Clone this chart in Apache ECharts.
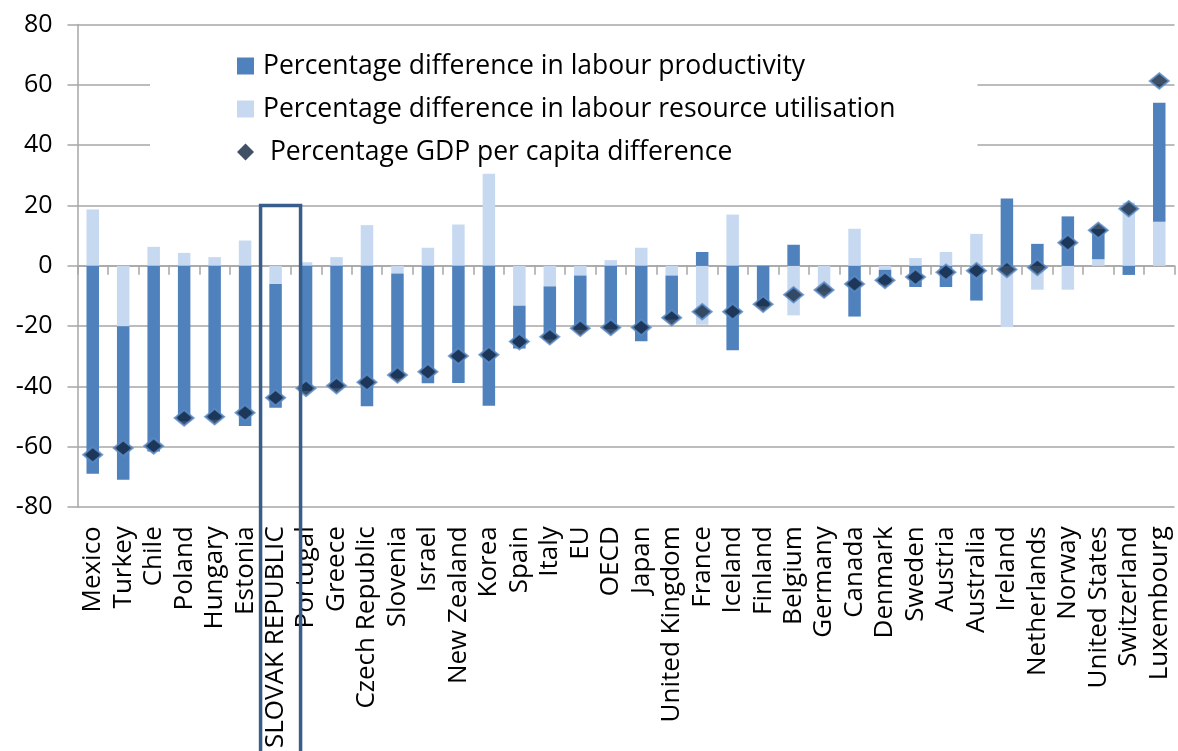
<!DOCTYPE html>
<html>
<head>
<meta charset="utf-8">
<script src="https://cdn.jsdelivr.net/npm/echarts@6/dist/echarts.min.js"></script>
<style>
html,body{margin:0;padding:0;background:#fff;}
#c{width:1178px;height:751px;}
</style>
</head>
<body>
<div id="c"></div>
<script>
const categories = ['Mexico','Turkey','Chile','Poland','Hungary','Estonia','SLOVAK REPUBLIC','Portugal','Greece','Czech Republic','Slovenia','Israel','New Zealand','Korea','Spain','Italy','EU','OECD','Japan','United Kingdom','France','Iceland','Finland','Belgium','Germany','Canada','Denmark','Sweden','Austria','Australia','Ireland','Netherlands','Norway','United States','Switzerland','Luxembourg'];

// stacked segment: labour resource utilisation (drawn nearest zero)
const utilisation = [18.7,-20.0,6.3,4.3,2.9,8.4,-6.0,1.2,2.9,13.5,-2.5,6.0,13.7,30.5,-13.2,-6.8,-3.2,1.9,6.0,-3.2,-19.5,17.0,0,-16.4,-8.5,12.3,-1.3,2.6,4.6,10.6,-20.3,-7.9,-7.9,2.2,21.0,14.6];

// stacked segment: labour productivity
const productivity = [-68.9,-50.9,-61.5,-51.5,-51.0,-53.1,-41.0,-41.5,-40.6,-46.5,-34.8,-38.9,-38.8,-46.4,-14.2,-17.6,-18.0,-21.0,-25.0,-14.6,4.6,-28.0,-13.4,7.0,0,-16.8,-4.9,-7.0,-7.0,-11.5,22.3,7.3,16.4,10.0,-3.0,39.5];

// GDP per capita difference
const gdp = [-62.6,-60.4,-59.7,-50.4,-50.0,-48.7,-43.7,-40.6,-39.7,-38.6,-36.2,-35.1,-29.9,-29.5,-25.1,-23.5,-20.7,-20.4,-20.4,-17.2,-15.2,-15.2,-12.7,-9.6,-8.0,-6.0,-4.8,-3.7,-2.1,-1.6,-1.2,-0.5,7.7,11.8,18.9,61.3];

const yTicks = {min:-80, max:80, interval:20};

const nameProd = 'Percentage difference in labour productivity';
const nameUtil = 'Percentage difference in labour resource utilisation';
const nameGdp = ' Percentage GDP per capita difference';

const FONT = 'Open Sans';
const chart = echarts.init(document.getElementById('c'));

const option = {
  animation: false,
  backgroundColor: '#fff',
  grid: {left: 77.5, right: 3.5, top: 24.5, bottom: 237, containLabel: false},
  legend: {
    orient: 'vertical',
    left: 150, top: 31,
    padding: [21, 82, 10, 87],
    backgroundColor: '#fff',
    itemWidth: 17, itemHeight: 17,
    itemGap: 15,
    data: [
      {name: nameProd, icon: 'rect'},
      {name: nameUtil, icon: 'rect'},
      {name: nameGdp, icon: 'diamond', itemStyle: {color: '#10243E', borderWidth: 0}}
    ],
    textStyle: {fontFamily: FONT, fontSize: 26.5, color: '#000', lineHeight: 28, padding: [0,0,0,4]},
    selectedMode: false
  },
  xAxis: [
    {
      type: 'category', data: categories, gridIndex: 0,
      axisLine: {onZero: true, lineStyle: {color: '#A6A6A6', width: 1.5}},
      axisTick: {show: true, interval: 0, length: 9, lineStyle: {color: '#A6A6A6', width: 1.5}},
      axisLabel: {show: false},
      splitLine: {show: false}
    },
    {
      type: 'category', data: categories, gridIndex: 0, position: 'bottom',
      axisLine: {show: false, onZero: false},
      axisTick: {show: false},
      axisLabel: {show: true, interval: 0, rotate: 90, margin: 19, fontFamily: FONT, fontSize: 26, color: '#000'},
      splitLine: {show: false}
    }
  ],
  yAxis: {
    type: 'value', min: yTicks.min, max: yTicks.max, interval: yTicks.interval,
    axisLine: {show: true, lineStyle: {color: '#A6A6A6', width: 1.5}},
    axisTick: {show: true, length: 10, lineStyle: {color: '#A6A6A6', width: 1.5}},
    axisLabel: {fontFamily: FONT, fontSize: 25, color: '#000', margin: 25},
    splitLine: {show: true, lineStyle: {color: '#A6A6A6', width: 1.5}}
  },
  series: [
    {
      name: nameUtil, type: 'bar', stack: 'total', data: utilisation,
      barWidth: 12.5, z: 5,
      itemStyle: {color: '#C6D9F1'}
    },
    {
      name: nameProd, type: 'bar', stack: 'total', data: productivity,
      barWidth: 12.5, z: 5,
      itemStyle: {color: '#4F81BD'}
    },
    {
      name: nameGdp, type: 'scatter', data: gdp, z: 6,
      symbol: 'diamond', symbolSize: [19, 15.5],
      itemStyle: {color: '#0F2440', borderColor: '#5B8CC8', borderWidth: 2}
    }
  ]
};
chart.setOption(option);

// highlight box around the Slovak Republic column
const cx = chart.convertToPixel({xAxisIndex: 0}, 'SLOVAK REPUBLIC');
const yTop = chart.convertToPixel({yAxisIndex: 0}, 20);
chart.setOption({
  graphic: [{
    type: 'rect', z: 100,
    shape: {x: cx - 15, y: yTop, width: 40, height: 751 - yTop + 20},
    style: {fill: 'none', stroke: '#385D8A', lineWidth: 3.5}
  }]
});
</script>
</body>
</html>
